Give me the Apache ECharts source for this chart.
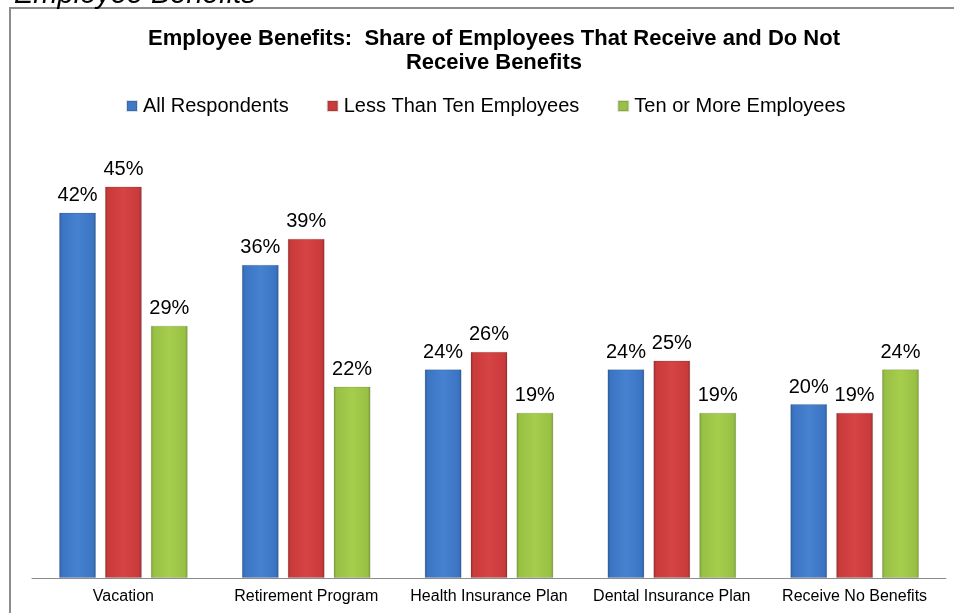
<!DOCTYPE html>
<html>
<head>
<meta charset="utf-8">
<script src="https://cdn.jsdelivr.net/npm/echarts@6/dist/echarts.min.js"></script>
<style>
  html, body { margin: 0; padding: 0; background: #fff; }
  #chart { width: 954px; height: 613px; }
</style>
</head>
<body>
<div id="chart"></div>
<script>
// Benefit categories and share (%) of employees per respondent group
const categories = ['Vacation', 'Retirement Program', 'Health Insurance Plan', 'Dental Insurance Plan', 'Receive No Benefits'];
const seriesNames = ['All Respondents', 'Less Than Ten Employees', 'Ten or More Employees'];
const allRespondents = [42, 36, 24, 24, 20];
const lessThanTen = [45, 39, 26, 25, 19];
const tenOrMore = [29, 22, 19, 19, 24];

const FONT = '"Liberation Sans", Arial, sans-serif';

// Horizontal gradient giving each bar a bevelled, rounded look
function bevel(edge, mid, light) {
  return new echarts.graphic.LinearGradient(0, 0, 1, 0, [
    { offset: 0, color: edge },
    { offset: 0.08, color: mid },
    { offset: 0.5, color: light },
    { offset: 0.92, color: mid },
    { offset: 1, color: edge }
  ]);
}

const palette = [
  { edge: '#2c5d9e', mid: '#3b74c2', light: '#4682d0', legend: '#3f78c6' },
  { edge: '#9e2c2c', mid: '#c93a3a', light: '#d64444', legend: '#c83c3c' },
  { edge: '#7e9e34', mid: '#98c044', light: '#a6cd4c', legend: '#98c044' }
];

const values = [allRespondents, lessThanTen, tenOrMore];

const series = values.map((arr, i) => ({
  name: seriesNames[i],
  type: 'bar',
  data: arr,
  barWidth: 37,
  barGap: '24%',
  itemStyle: {
    color: bevel(palette[i].edge, palette[i].mid, palette[i].light),
    borderColor: 'rgba(0,0,0,0.12)',
    borderWidth: 1
  },
  label: {
    show: true,
    position: 'top',
    distance: 7,
    formatter: '{c}%',
    fontFamily: FONT,
    fontSize: 20,
    color: '#000'
  }
}));

const chart = echarts.init(document.getElementById('chart'), null, { renderer: 'canvas' });

chart.setOption({
  animation: false,
  backgroundColor: '#fff',
  title: {
    text: 'Employee Benefits:  Share of Employees That Receive and Do Not\nReceive Benefits',
    left: 489,
    top: 22,
    textAlign: 'center',
    textStyle: {
      fontFamily: FONT,
      fontSize: 22,
      fontWeight: 'bold',
      color: '#000',
      lineHeight: 24
    }
  },
  legend: {
    top: 91,
    left: 121,
    itemWidth: 10,
    itemHeight: 10,
    itemGap: 38,
    icon: 'rect',
    textStyle: { fontFamily: FONT, fontSize: 20, color: '#000', padding: [0, 0, 0, 1] },
    data: seriesNames.map((n, i) => ({ name: n, itemStyle: { color: palette[i].legend } }))
  },
  grid: { left: 32, right: 8, top: 143, bottom: 35 },
  xAxis: {
    type: 'category',
    data: categories,
    axisLine: { lineStyle: { color: '#8c8c8c', width: 1 } },
    axisTick: { show: false },
    axisLabel: { interval: 0, fontFamily: FONT, fontSize: 16, color: '#000', margin: 11 }
  },
  yAxis: {
    type: 'value',
    min: 0,
    max: 50,
    interval: 10,
    show: false,
    splitLine: { show: false }
  },
  graphic: [
    {
      type: 'rect',
      shape: { x: 10, y: 8, width: 1000, height: 700 },
      style: { fill: 'none', stroke: '#8c8c8c', lineWidth: 2 },
      z: -1
    },
    {
      type: 'text',
      left: 14,
      top: -20,
      style: {
        text: 'Employee Benefits',
        font: 'italic 29px ' + FONT,
        fill: '#000'
      }
    }
  ],
  series: series
});
</script>
</body>
</html>
